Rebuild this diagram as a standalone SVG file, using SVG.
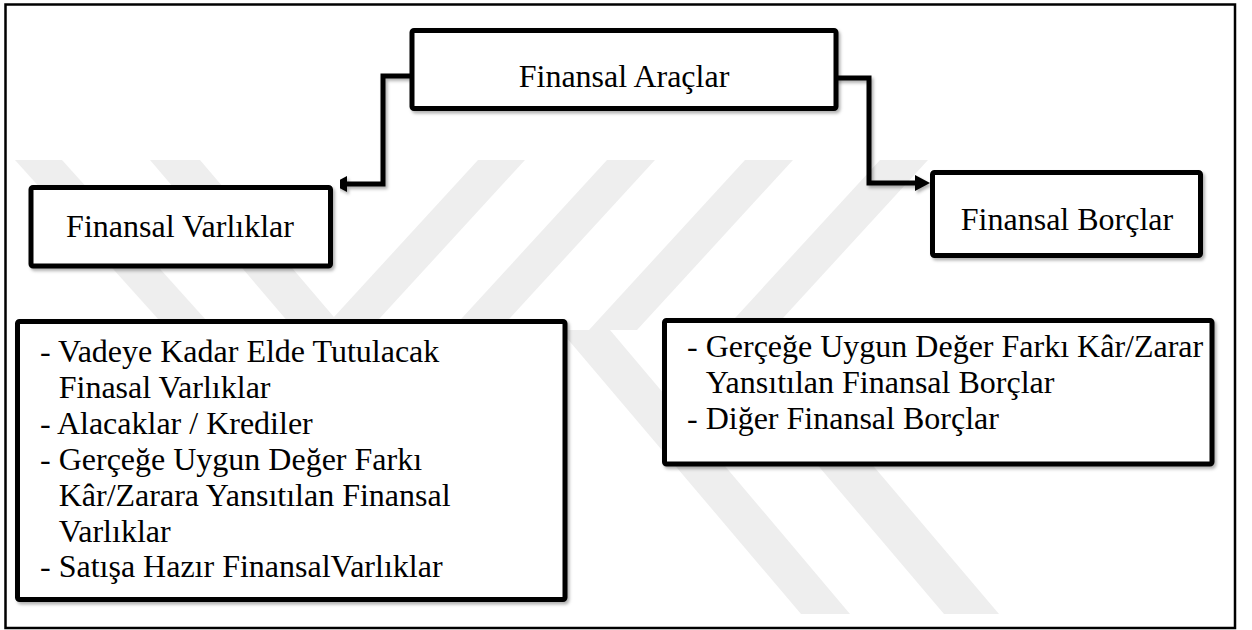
<svg xmlns="http://www.w3.org/2000/svg" width="1252" height="630" viewBox="0 0 1252 630">
  <defs>
    <style>
      .box { fill: #ffffff; stroke: #000000; stroke-width: 5; filter: url(#shadow); }
      .title { font-family: "Liberation Serif", "Times New Roman", serif; font-size: 32px; fill: #000000; text-anchor: middle; }
      .item { font-family: "Liberation Serif", "Times New Roman", serif; font-size: 32px; fill: #000000; }
      .conn { fill: none; stroke: #000000; stroke-width: 5; stroke-linejoin: miter; filter: url(#shadow); }
      .wm { fill: #eeeeee; }
    </style>
    <filter id="shadow" x="-10%" y="-10%" width="130%" height="140%">
      <feDropShadow dx="2" dy="2.5" stdDeviation="1.5" flood-color="#000000" flood-opacity="0.3"/>
    </filter>
    <marker id="arrow" viewBox="0 0 15 16" refX="0" refY="8" markerWidth="15" markerHeight="16" markerUnits="userSpaceOnUse" orient="auto">
      <path d="M0,0 L15,8 L0,16 Z" fill="#000000"/>
    </marker>
  </defs>

  <rect x="0" y="0" width="1252" height="630" fill="#ffffff"/>

  <g id="watermark">
    <polygon class="wm" points="15,160 62,160 215,330 168,330"/>
    <polygon class="wm" points="150,160 200,160 345,330 295,330"/>
    <polygon class="wm" points="478,160 525,160 369,330 322,330"/>
    <polygon class="wm" points="607,160 655,160 499,330 451,330"/>
    <polygon class="wm" points="745,160 793,160 637,330 589,330"/>
    <polygon class="wm" points="880,160 928,160 772,330 724,330"/>
    <polygon class="wm" points="560,330 610,330 850,614 801,614"/>
    <polygon class="wm" points="703,330 758,330 999,614 944,614"/>
  </g>

  <rect id="frame" x="5.5" y="4.5" width="1229.5" height="623.5" fill="none" stroke="#000000" stroke-width="2.5"/>

  <g id="connectors">
    <path class="conn" d="M412,76 H383 V184 H347" marker-end="url(#arrow)"/>
    <path class="conn" d="M836,78 H869 V183 H915" marker-end="url(#arrow)"/>
    <path class="conn" d="M172,277 V302" stroke-width="5.5" marker-end="url(#arrow)"/>
    <path class="conn" d="M1060,267 V292" stroke-width="5.5" marker-end="url(#arrow)"/>
  </g>

  <g id="node-araclar">
    <rect class="box" x="412" y="30.5" width="424" height="78" rx="2"/>
    <text class="title" x="624" y="87">Finansal Araçlar</text>
  </g>

  <g id="node-varliklar">
    <rect class="box" x="31" y="187.5" width="299.5" height="78.5" rx="2"/>
    <text class="title" x="180" y="237">Finansal Varlıklar</text>
  </g>

  <g id="node-borclar">
    <rect class="box" x="932.5" y="172.5" width="268" height="83" rx="2"/>
    <text class="title" x="1067" y="230">Finansal Borçlar</text>
  </g>

  <g id="node-varlik-list">
    <rect class="box" x="17.5" y="321.5" width="547.5" height="278" rx="2"/>
    <text class="item" x="40" y="362">- Vadeye Kadar Elde Tutulacak</text>
    <text class="item" x="58.7" y="398">Finasal Varlıklar</text>
    <text class="item" x="40" y="434">- Alacaklar / Krediler</text>
    <text class="item" x="40" y="470">- Gerçeğe Uygun Değer Farkı</text>
    <text class="item" x="58.7" y="506">Kâr/Zarara Yansıtılan Finansal</text>
    <text class="item" x="58.7" y="542">Varlıklar</text>
    <text class="item" x="40" y="577">- Satışa Hazır FinansalVarlıklar</text>
  </g>

  <g id="node-borc-list">
    <rect class="box" x="664.5" y="320.5" width="547.5" height="143.5" rx="2"/>
    <text class="item" x="687" y="357">- Gerçeğe Uygun Değer Farkı Kâr/Zarar</text>
    <text class="item" x="705.7" y="393">Yansıtılan Finansal Borçlar</text>
    <text class="item" x="687" y="429">- Diğer Finansal Borçlar</text>
  </g>
</svg>
